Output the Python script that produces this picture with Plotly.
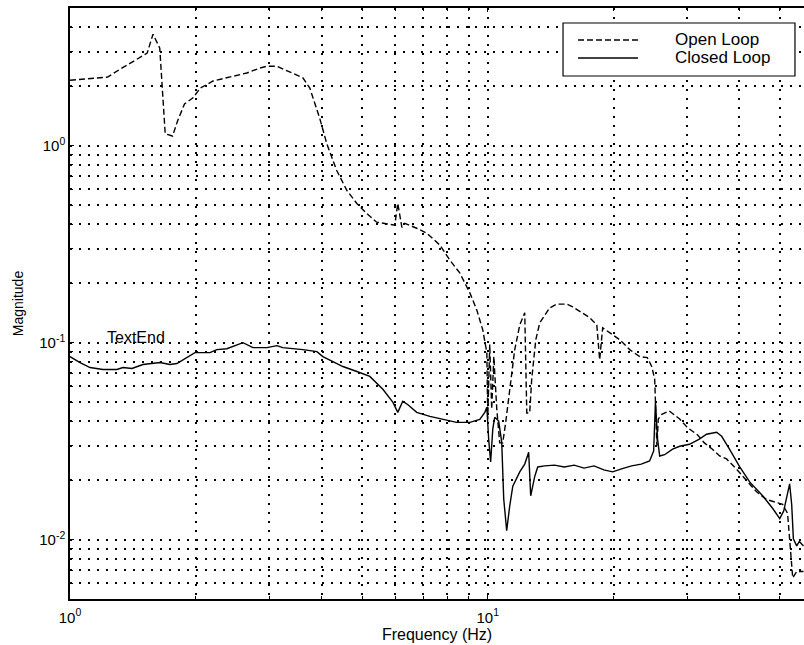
import plotly.graph_objects as go

# Open-loop magnitude response (dashed)
open_freq = [1.00, 1.23, 1.32, 1.42, 1.53, 1.58, 1.64, 1.69, 1.76, 1.81,
             1.88, 1.97, 2.05, 2.20, 2.46, 2.65, 2.85, 2.96, 3.13, 3.42,
             3.61, 3.75, 3.96, 4.12, 4.35, 4.60, 4.86, 5.13, 5.42, 5.99,
             6.09, 6.23, 6.33, 6.76, 7.14, 7.68, 8.11, 8.57, 9.06, 9.41,
             9.73, 9.95, 10.0, 10.11, 10.22, 10.34, 10.51, 10.68, 10.86, 11.04,
             11.29, 11.60, 11.93, 12.26, 12.40, 12.60, 12.74, 13.03, 13.32, 13.69,
             14.06, 14.62, 15.45, 15.97, 16.6, 17.54, 18.24, 18.53, 18.84, 19.58,
             20.7, 21.9, 23.1, 24.1, 24.7, 25.1, 25.4, 25.6, 26.1, 27.2,
             28.8, 30.1, 31.8, 33.0, 34.5, 35.9, 37.3, 39.4, 41.6, 44.0,
             46.5, 49.1, 50.8, 52.2, 53.1, 53.7, 54.9, 57.0]
open_mag = [2.15, 2.23, 2.45, 2.69, 2.95, 3.68, 3.13, 1.15, 1.12, 1.34,
            1.63, 1.75, 1.96, 2.13, 2.26, 2.34, 2.48, 2.53, 2.53, 2.34,
            2.21, 1.96, 1.38, 1.02, 0.748, 0.593, 0.509, 0.453, 0.409, 0.395,
            0.509, 0.385, 0.404, 0.381, 0.360, 0.313, 0.263, 0.226, 0.179, 0.147,
            0.116, 0.089, 0.041, 0.098, 0.046, 0.085, 0.046, 0.031, 0.031, 0.0394,
            0.058, 0.092, 0.123, 0.142, 0.044, 0.044, 0.065, 0.1035, 0.126, 0.138,
            0.150, 0.157, 0.157, 0.152, 0.144, 0.134, 0.123, 0.082, 0.119, 0.112,
            0.1035, 0.092, 0.085, 0.084, 0.0756, 0.065, 0.030, 0.041, 0.0433, 0.045,
            0.041, 0.037, 0.034, 0.031, 0.0288, 0.0266, 0.0257, 0.0228, 0.020, 0.0175,
            0.016, 0.0155, 0.0151, 0.0136, 0.0080, 0.0064, 0.0069, 0.0069]

# Closed-loop magnitude response (solid)
closed_freq = [1.00, 1.057, 1.117, 1.199, 1.295, 1.339, 1.407, 1.495, 1.642, 1.735,
               1.802, 1.905, 1.991, 2.163, 2.247, 2.373, 2.455, 2.594, 2.741, 2.96,
               3.13, 3.23, 3.61, 3.90, 4.03, 4.26, 4.50, 4.86, 5.22, 5.61,
               5.93, 6.09, 6.26, 6.43, 6.76, 7.27, 7.81, 8.42, 9.06, 9.57,
               9.84, 9.95, 10.05, 10.16, 10.28, 10.39, 10.62, 10.80, 10.92, 11.10,
               11.29, 11.48, 11.93, 12.26, 12.53, 12.67, 12.96, 13.17, 13.69, 14.45,
               15.25, 16.1, 17.0, 17.96, 18.96, 19.9, 20.9, 22.1, 23.3, 24.4,
               24.95, 25.2, 25.5, 25.8, 26.5, 27.7, 28.8, 30.4, 32.1, 33.4,
               35.3, 36.3, 37.9, 40.1, 42.4, 45.5, 48.1, 50.0, 51.1, 52.2,
               52.8, 53.4, 53.9, 54.9, 55.7, 57.0]
closed_mag = [0.085, 0.0793, 0.0748, 0.0731, 0.0731, 0.0748, 0.074, 0.0775, 0.0793, 0.0775,
              0.0784, 0.084, 0.089, 0.089, 0.0922, 0.0932, 0.0955, 0.100, 0.0944, 0.0944,
              0.0966, 0.0944, 0.0922, 0.0901, 0.085, 0.0802, 0.0757, 0.0714, 0.0674, 0.058,
              0.0498, 0.0443, 0.0504, 0.0486, 0.0443, 0.0423, 0.0408, 0.0394, 0.0394, 0.0408,
              0.0443, 0.047, 0.0324, 0.0248, 0.0364, 0.0418, 0.040, 0.0313, 0.0161, 0.0111,
              0.0149, 0.0187, 0.0221, 0.0242, 0.0278, 0.0167, 0.021, 0.0234, 0.0237, 0.0239,
              0.0234, 0.0239, 0.0231, 0.0237, 0.0226, 0.0221, 0.0229, 0.0237, 0.0242, 0.0251,
              0.0282, 0.0498, 0.0324, 0.0266, 0.027, 0.0288, 0.0298, 0.0305, 0.0324, 0.0343,
              0.0351, 0.0335, 0.0288, 0.0234, 0.0196, 0.0167, 0.0144, 0.0128, 0.014, 0.0175,
              0.0192, 0.0151, 0.0101, 0.0093, 0.0098, 0.0093]

# Decade ticks (labelled) and in-between log grid positions (unlabelled)
x_major = [1, 10]
x_major_labels = ["10<sup>0</sup>", "10<sup>1</sup>"]
x_minor = [2, 3, 4, 5, 6, 7, 8, 9, 20, 30, 40, 50]
y_major = [0.01, 0.1, 1]
y_major_labels = ["10<sup>-2</sup>", "10<sup>-1</sup>", "10<sup>0</sup>"]
y_minor = [0.006, 0.007, 0.008, 0.009, 0.02, 0.03, 0.04, 0.05, 0.06, 0.07, 0.08, 0.09,
           0.2, 0.3, 0.4, 0.5, 0.6, 0.7, 0.8, 0.9, 2, 3, 4]

series_names = ["Open Loop", "Closed Loop"]
DASH = "6px,3px"
FONT = "Liberation Sans, Arial, Helvetica, sans-serif"

fig = go.Figure()
fig.add_trace(go.Scatter(x=open_freq, y=open_mag, mode="lines", name=series_names[0],
                         line=dict(color="black", width=1.4, dash=DASH)))
fig.add_trace(go.Scatter(x=closed_freq, y=closed_mag, mode="lines", name=series_names[1],
                         line=dict(color="black", width=1.4)))

fig.add_annotation(x=0.084, y=-0.975, xref="x", yref="y", text="TextEnd",
                   showarrow=False, xanchor="left", yanchor="middle",
                   font=dict(family=FONT, size=16, color="black"))

# Boxed key in the upper right corner (paper coordinates of the plot area)
key_x0, key_x1, key_y0, key_y1 = 0.6717, 0.9877, 0.8849, 0.9746
sample_x0, sample_x1 = 0.6921, 0.7738
row_y = [0.9459, 0.9154]
row_dash = [DASH, "solid"]
fig.add_shape(type="rect", xref="paper", yref="paper",
              x0=key_x0, x1=key_x1, y0=key_y0, y1=key_y1,
              line=dict(color="black", width=1.2), fillcolor="white", layer="above")
for name, yy, dash in zip(series_names, row_y, row_dash):
    fig.add_shape(type="line", xref="paper", yref="paper",
                  x0=sample_x0, x1=sample_x1, y0=yy, y1=yy,
                  line=dict(color="black", width=1.4, dash=dash), layer="above")
    fig.add_annotation(x=0.8215, y=yy, xref="paper", yref="paper", text=name,
                       showarrow=False, xanchor="left", yanchor="middle",
                       font=dict(family=FONT, size=17, color="black"))

dotted = dict(gridcolor="black", gridwidth=1.7, griddash="2px,7px")
axis_common = dict(showgrid=True, zeroline=False, showline=True,
                   linecolor="black", linewidth=1.5,
                   ticks="inside", ticklen=4, tickcolor="black", tickwidth=1,
                   tickfont=dict(family=FONT, size=15, color="black"), **dotted)

fig.update_xaxes(type="log", range=[0, 1.757], tickmode="array",
                 tickvals=x_major, ticktext=x_major_labels, mirror="ticks",
                 ticklabelstandoff=4,
                 minor=dict(tickmode="array", tickvals=x_minor, showgrid=True,
                            ticks="inside", ticklen=3, tickcolor="black", **dotted),
                 title=dict(text="Frequency (Hz)", standoff=1,
                            font=dict(family=FONT, size=16, color="black")),
                 **axis_common)
fig.update_yaxes(type="log", range=[-2.301, 0.699], tickmode="array",
                 tickvals=y_major, ticktext=y_major_labels, mirror=False,
                 minor=dict(tickmode="array", tickvals=y_minor, showgrid=True,
                            ticks="inside", ticklen=3, tickcolor="black", **dotted),
                 title=dict(text="Magnitude", standoff=12,
                            font=dict(family=FONT, size=14, color="black")),
                 **axis_common)

fig.update_layout(
    width=804, height=645,
    margin=dict(l=70, r=0, t=8, b=46),
    plot_bgcolor="white", paper_bgcolor="white",
    showlegend=False,
)

fig.write_html("out.html")
